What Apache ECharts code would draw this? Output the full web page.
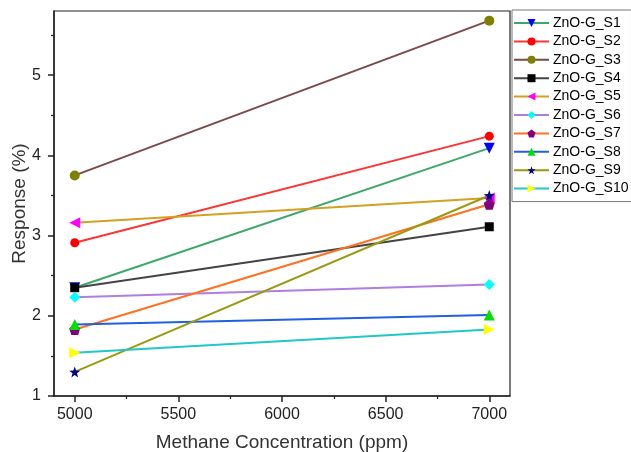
<!DOCTYPE html>
<html><head><meta charset="utf-8">
<script src="https://cdn.jsdelivr.net/npm/echarts@6/dist/echarts.min.js"></script>
<style>html,body{margin:0;padding:0;background:#fff}#c{width:631px;height:452px}</style>
</head><body><div id="c"></div>
<script>
const concentrations = [5000, 7000];
const seriesNames = ['ZnO-G_S1','ZnO-G_S2','ZnO-G_S3','ZnO-G_S4','ZnO-G_S5','ZnO-G_S6','ZnO-G_S7','ZnO-G_S8','ZnO-G_S9','ZnO-G_S10'];
const S1 = [2.35, 4.09];
const S2 = [2.91, 4.24];
const S3 = [3.75, 5.68];
const S4 = [2.35, 3.11];
const S5 = [3.16, 3.47];
const S6 = [2.23, 2.39];
const S7 = [1.83, 3.39];
const S8 = [1.89, 2.01];
const S9 = [1.30, 3.50];
const S10 = [1.54, 1.83];
const xMajorTicks = [5000, 5500, 6000, 6500, 7000];
const xMinorTicks = [5250, 5750, 6250, 6750];
const yMajorTicks = [1, 2, 3, 4, 5];
const yMinorTicks = [1.5, 2.5, 3.5, 4.5, 5.5];

const values = [S1,S2,S3,S4,S5,S6,S7,S8,S9,S10];
const lineColors = ['#3aa86b','#ff3333','#7a4a4a','#444444','#d4a020','#b07ee0','#ff7020','#2060e0','#9a9a10','#20c8c8'];
const markColors = ['#0000ff','#ff0000','#808000','#000000','#ff00ff','#00ffff','#800080','#00e000','#000080','#ffff00'];
const pentagon = 'path://M0,-10L9.51,-3.09L5.88,8.09L-5.88,8.09L-9.51,-3.09Z';
const star = 'path://M0,-10L2.35,-3.24L9.51,-3.09L3.8,1.24L5.88,8.09L0,4L-5.88,8.09L-3.8,1.24L-9.51,-3.09L-2.35,-3.24Z';
const symbols = ['triangle','circle','circle','rect','triangle','diamond',pentagon,'triangle',star,'triangle'];
const rotates = [180,0,0,0,90,0,0,0,0,-90];
const sizes = [11,9,10,9,11,11,11,11,11,11];

const font = 'Liberation Sans, Arial, sans-serif';
const series = values.map((v,i)=>({
  name: seriesNames[i],
  type: 'line',
  data: concentrations.map((c,j)=>[c, v[j]]),
  symbol: symbols[i],
  symbolRotate: rotates[i],
  symbolSize: sizes[i],
  showAllSymbol: true,
  lineStyle: {color: lineColors[i], width: 2},
  itemStyle: {color: markColors[i]},
  emphasis: {disabled: true},
  animation: false
}));

const chart = echarts.init(document.getElementById('c'));
chart.setOption({
  animation: false,
  backgroundColor: '#fff',
  grid: {left: 54, top: 11, right: 121, bottom: 56, outerBoundsMode: 'none', containLabel: false, show: true, borderColor: '#222', borderWidth: 1.2, backgroundColor: 'transparent'},
  legend: {
    orient: 'vertical', left: 512, top: 10,
    padding: [6, 3, 6, 1],
    itemWidth: 35, itemHeight: 10, itemGap: 4.4,
    borderColor: '#777', borderWidth: 1,
    textStyle: {fontFamily: font, fontSize: 14, lineHeight: 10, color: '#000', padding: [0,0,0,-1]},
    data: seriesNames
  },
  xAxis: [{
    type: 'value', min: 4900, max: 7100,
    name: 'Methane Concentration (ppm)', nameLocation: 'middle', nameGap: 37, nameMoveOverlap: false,
    nameTextStyle: {fontFamily: font, fontSize: 19, color: '#333'},
    axisLine: {lineStyle: {color: '#222', width: 1.5}},
    axisTick: {customValues: xMajorTicks, length: 6, lineStyle: {color: '#222', width: 1.5}},
    axisLabel: {customValues: xMajorTicks, margin: 11, fontFamily: font, fontSize: 16, color: '#222', formatter: v => String(v)},
    splitLine: {show: false}
  },{
    type: 'value', min: 4900, max: 7100, position: 'bottom',
    axisLine: {show: false},
    axisTick: {customValues: xMinorTicks, length: 3, lineStyle: {color: '#222', width: 1.2}},
    axisLabel: {show: false}, splitLine: {show: false}
  }],
  yAxis: [{
    type: 'value', min: 1, max: 5.8,
    name: 'Response (%)', nameLocation: 'middle', nameGap: 25, nameMoveOverlap: false,
    nameTextStyle: {fontFamily: font, fontSize: 19, color: '#333'},
    axisLine: {show: true, lineStyle: {color: '#222', width: 1.5}},
    axisTick: {show: true, customValues: yMajorTicks, length: 6, lineStyle: {color: '#222', width: 1.5}},
    axisLabel: {customValues: yMajorTicks, margin: 13, fontFamily: font, fontSize: 16, color: '#222'},
    splitLine: {show: false}
  },{
    type: 'value', min: 1, max: 5.8, position: 'left',
    axisLine: {show: false},
    axisTick: {show: true, customValues: yMinorTicks, length: 3, lineStyle: {color: '#222', width: 1.2}},
    axisLabel: {show: false}, splitLine: {show: false}
  }],
  series: series
});
</script></body></html>
